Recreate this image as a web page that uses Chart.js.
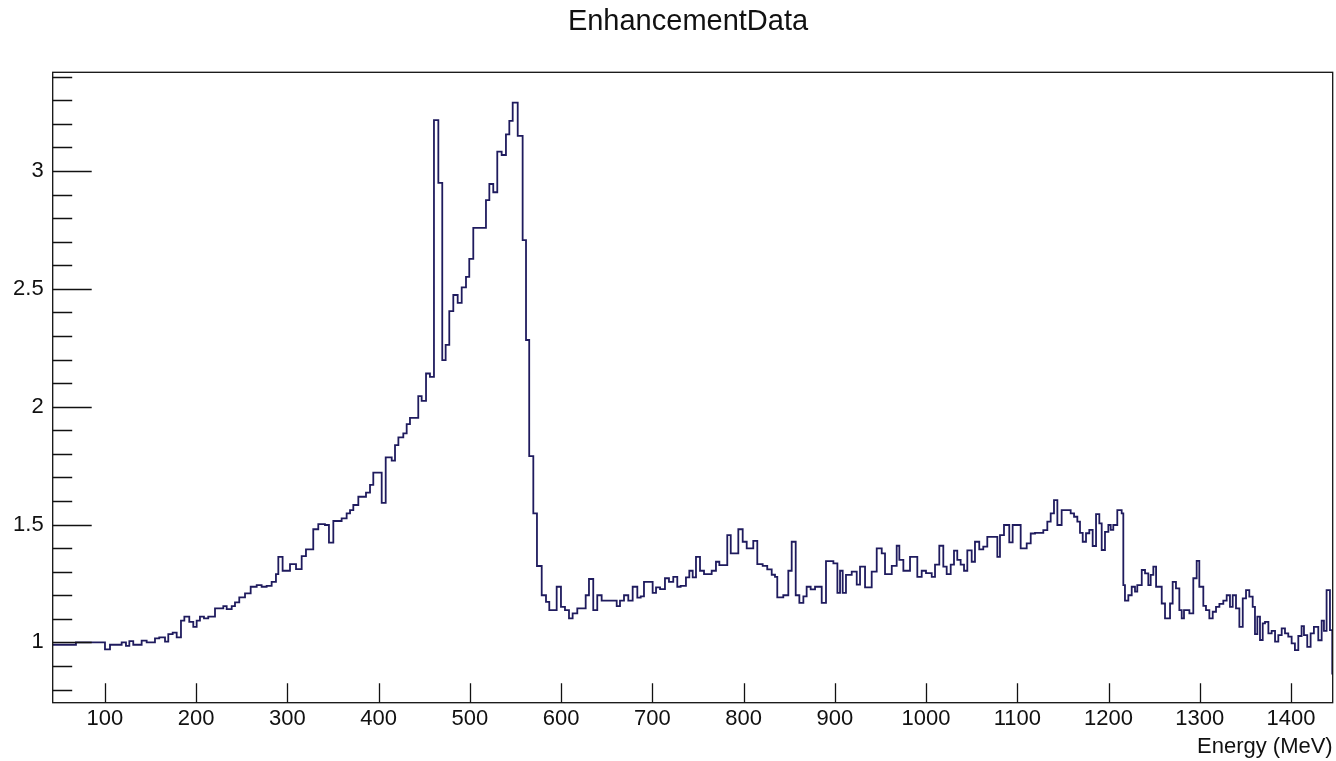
<!DOCTYPE html>
<html>
<head>
<meta charset="utf-8">
<title>EnhancementData</title>
<script src="https://cdn.jsdelivr.net/npm/chart.js@4.4.1/dist/chart.umd.min.js"></script>
<style>
  html, body { margin: 0; padding: 0; background: #fff; }
  canvas { display: block; }
</style>
</head>
<body>
<canvas id="graph" width="1336" height="761"></canvas>
<script>
// lower bin edges (MeV) and enhancement per bin; last edge closes the final bin
var binEdges = [
  42.7, 68.2, 100, 105.5, 118.3, 123, 126.7, 131, 140.2, 145.7,
  154.8, 159.5, 165.8, 169.4, 174.2, 178.6, 183.3, 187, 192.4, 196.8,
  200.5, 204.1, 208.5, 213.2, 220.6, 229.7, 233.4, 238.9, 242.5, 247.2,
  253.5, 259.7, 266.3, 271.7, 277.2, 282.7, 287.4, 290, 294.7, 302.8,
  309.4, 315.6, 320.3, 328.3, 333.8, 341.1, 345.5, 350.3, 359.4, 364.9,
  368.6, 372.2, 377.7, 386.1, 390.5, 394.1, 403.3, 407.7, 414.3, 417.9,
  421.6, 427, 430.7, 434.3, 443.4, 447.1, 451.9, 456.2, 460.6, 465.4,
  469.7, 473.4, 477.4, 481.8, 486.6, 491, 495.7, 499.3, 503.7, 517.6,
  521.3, 525.6, 530, 534.8, 539.5, 543.2, 546.9, 552.4, 557.8, 561.5,
  565, 569.5, 573.5, 578.7, 583.4, 587, 595.1, 599.8, 604.2, 608.6,
  612.6, 617.7, 626.9, 630.5, 635.2, 639.6, 644.4, 660.9, 664.5, 668.9,
  673.6, 678.4, 683.5, 687.2, 690.8, 700.3, 704, 708.4, 713.8, 718.2,
  722.9, 727.3, 731, 736.8, 740.5, 744.2, 747.8, 752.2, 756.6, 765,
  769.7, 773.4, 782.1, 785.9, 794.2, 799, 803.4, 810.6, 815, 820.9,
  825.9, 830.8, 834.4, 836.9, 843.5, 849, 852.7, 857.1, 861.1, 865.5,
  869.1, 873.5, 878.3, 885.6, 890.3, 898.4, 902.8, 905.7, 908.6, 912.2,
  918.5, 924, 927.6, 933.1, 940.4, 945.9, 951.4, 955, 962.4, 967.8,
  970.7, 975.1, 982.4, 990.4, 995.2, 999.9, 1006.2, 1009.8, 1014.5, 1018.9,
  1022.6, 1027, 1030.6, 1034.2, 1037.9, 1041.6, 1045.2, 1050, 1053.6, 1058.3,
  1062.7, 1067.1, 1078.1, 1081, 1085.4, 1091.2, 1094.9, 1103.7, 1110.3, 1114.7,
  1119.4, 1128.5, 1132.9, 1136.6, 1140.2, 1143.9, 1148.6, 1158.5, 1162.2, 1165.8,
  1168.7, 1171.7, 1175.3, 1178.9, 1182.6, 1186.3, 1189.9, 1192.5, 1196.1, 1199.8,
  1202.4, 1205.2, 1209.6, 1214.4, 1216.2, 1218, 1221.7, 1225.4, 1229, 1231.5,
  1236.4, 1240, 1243.6, 1246.2, 1249.1, 1252.1, 1258.3, 1261.9, 1267.4, 1270.3,
  1273.9, 1277.6, 1280.2, 1282.7, 1288.6, 1292.9, 1296.6, 1299.5, 1303.9, 1306.8,
  1310.5, 1314.2, 1317.8, 1321.5, 1325.8, 1329.5, 1333.1, 1336.1, 1339.7, 1343.4,
  1347.1, 1350.7, 1354.3, 1358, 1360.5, 1363.1, 1366, 1369, 1371.5, 1375.2,
  1378.8, 1382.5, 1386.1, 1389.8, 1393.4, 1397, 1400.7, 1404.3, 1408, 1411.6,
  1414.2, 1417.8, 1421.5, 1425.1, 1429.9, 1433.6, 1436.1, 1439, 1442.7, 1445.2,
  1446
];

var enhancement = [
  0.99, 1.0, 0.97, 0.99, 1.0, 0.985, 1.005, 0.99, 1.007, 1.0,
  1.017, 1.021, 1.003, 1.035, 1.041, 1.021, 1.092, 1.109, 1.087, 1.066,
  1.092, 1.109, 1.102, 1.109, 1.144, 1.154, 1.141, 1.154, 1.17, 1.191,
  1.208, 1.236, 1.243, 1.236, 1.24, 1.257, 1.29, 1.363, 1.304, 1.332,
  1.311, 1.366, 1.395, 1.48, 1.502, 1.498, 1.423, 1.515, 1.526, 1.547,
  1.561, 1.583, 1.618, 1.635, 1.668, 1.72, 1.592, 1.785, 1.771, 1.837,
  1.87, 1.887, 1.926, 1.953, 2.045, 2.025, 2.141, 2.127, 3.216, 2.95,
  2.198, 2.262, 2.406, 2.474, 2.441, 2.506, 2.551, 2.627, 2.759, 2.877,
  2.945, 2.91, 3.082, 3.068, 3.156, 3.213, 3.29, 3.149, 2.707, 2.283,
  1.79, 1.547, 1.324, 1.2, 1.172, 1.137, 1.236, 1.151, 1.137, 1.102,
  1.123, 1.144, 1.2, 1.269, 1.137, 1.2, 1.177, 1.154, 1.177, 1.2,
  1.177, 1.236, 1.19, 1.195, 1.257, 1.21, 1.233, 1.226, 1.272, 1.257,
  1.278, 1.236, 1.24, 1.276, 1.304, 1.276, 1.363, 1.304, 1.29, 1.304,
  1.342, 1.328, 1.455, 1.378, 1.48, 1.427, 1.399, 1.431, 1.332, 1.325,
  1.31, 1.287, 1.278, 1.191, 1.2, 1.304, 1.427, 1.2, 1.168, 1.195,
  1.236, 1.225, 1.236, 1.168, 1.345, 1.335, 1.21, 1.304, 1.21, 1.286,
  1.3, 1.245, 1.321, 1.233, 1.3, 1.399, 1.378, 1.29, 1.325, 1.41,
  1.35, 1.304, 1.363, 1.278, 1.304, 1.294, 1.278, 1.33, 1.41, 1.321,
  1.29, 1.33, 1.389, 1.35, 1.33, 1.304, 1.39, 1.342, 1.427, 1.395,
  1.406, 1.448, 1.363, 1.455, 1.498, 1.424, 1.498, 1.399, 1.42, 1.462,
  1.465, 1.476, 1.512, 1.547, 1.604, 1.498, 1.561, 1.547, 1.533, 1.512,
  1.465, 1.427, 1.463, 1.477, 1.409, 1.544, 1.505, 1.392, 1.469, 1.498,
  1.477, 1.498, 1.561, 1.547, 1.243, 1.177, 1.2, 1.236, 1.215, 1.243,
  1.307, 1.293, 1.243, 1.286, 1.321, 1.236, 1.165, 1.102, 1.165, 1.257,
  1.229, 1.137, 1.102, 1.137, 1.123, 1.272, 1.346, 1.236, 1.155, 1.137,
  1.102, 1.13, 1.151, 1.163, 1.177, 1.2, 1.151, 1.2, 1.144, 1.066,
  1.187, 1.222, 1.194, 1.151, 1.035, 1.109, 1.01, 1.081, 1.087, 1.038,
  1.049, 1.003, 1.031, 1.059, 1.038, 1.024, 0.996, 0.967, 1.027, 1.069,
  1.031, 0.981, 1.038, 1.066, 1.009, 1.092, 1.049, 1.222, 1.052, 0.868
];

var xTicks = [100, 200, 300, 400, 500, 600, 700, 800, 900, 1000, 1100, 1200, 1300, 1400];
var yMajorTicks = [1, 1.5, 2, 2.5, 3];
var yMinorTicks = [0.8, 0.9, 1.1, 1.2, 1.3, 1.4, 1.6, 1.7, 1.8, 1.9,
                   2.1, 2.2, 2.3, 2.4, 2.6, 2.7, 2.8, 2.9, 3.1, 3.2, 3.3, 3.4];

var FONT = '"Liberation Sans", Arial, Helvetica, sans-serif';
var INK = '#111';

function histPoints() {
  var pts = [];
  for (var i = 0; i < enhancement.length; i++) {
    pts.push({ x: binEdges[i], y: enhancement[i] });
  }
  pts.push({ x: binEdges[binEdges.length - 1], y: enhancement[enhancement.length - 1] });
  return pts;
}

function isMajor(v) {
  return yMajorTicks.indexOf(Math.round(v * 10) / 10) !== -1;
}

// ROOT style frame: box around the pad, ticks pointing inwards
var framePlugin = {
  id: 'frame',
  afterDraw: function(chart) {
    var ctx = chart.ctx;
    var area = chart.chartArea;
    var xs = chart.scales.x;
    var ys = chart.scales.y;
    ctx.save();
    ctx.strokeStyle = INK;
    ctx.lineWidth = 1.3;
    ctx.strokeRect(area.left, area.top, area.right - area.left, area.bottom - area.top);

    ctx.beginPath();
    xTicks.forEach(function(v) {
      var px = Math.round(xs.getPixelForValue(v)) + 0.5;
      ctx.moveTo(px, area.bottom);
      ctx.lineTo(px, area.bottom - 19.5);
    });
    yMajorTicks.concat(yMinorTicks).forEach(function(v) {
      var py = Math.round(ys.getPixelForValue(v)) + 0.5;
      ctx.moveTo(area.left, py);
      ctx.lineTo(area.left + (isMajor(v) ? 39 : 19.5), py);
    });
    ctx.stroke();

    // histogram title
    ctx.fillStyle = INK;
    ctx.font = '29px ' + FONT;
    ctx.textAlign = 'center';
    ctx.textBaseline = 'middle';
    ctx.fillText('EnhancementData', 688, 22);
    ctx.restore();
  }
};

function chartSetup() {
  var data = {
    type: 'line',
    data: {
      datasets: [{
        data: histPoints(),
        stepped: true,
        borderColor: '#1f1b5e',
        borderWidth: 1.8,
        pointRadius: 0,
        fill: false
      }]
    },
    options: {
      responsive: false,
      animation: false,
      layout: {
        padding: { top: 72.3, right: 3.3, left: 0, bottom: 0 }
      },
      plugins: {
        legend: { display: false },
        title: { display: false },
        tooltip: { enabled: false }
      },
      scales: {
        x: {
          type: 'linear',
          min: 42.7,
          max: 1445.7,
          afterBuildTicks: function(scale) {
            scale.ticks = xTicks.map(function(v) { return { value: v }; });
          },
          afterFit: function(scale) { scale.height = 58.3; },
          grid: { display: false, drawTicks: false },
          border: { display: false },
          ticks: {
            padding: 3,
            color: INK,
            maxRotation: 0,
            autoSkip: false,
            font: { family: FONT, size: 22 },
            callback: function(value) { return String(value); }
          },
          title: {
            display: true,
            text: 'Energy (MeV)',
            align: 'end',
            color: INK,
            padding: { top: 0, bottom: 1 },
            font: { family: FONT, size: 22 }
          }
        },
        y: {
          min: 0.744,
          max: 3.419,
          afterBuildTicks: function(scale) {
            scale.ticks = yMajorTicks.map(function(v) { return { value: v }; });
          },
          afterFit: function(scale) { scale.width = 52.7; },
          grid: { display: false, drawTicks: false },
          border: { display: false },
          ticks: {
            padding: 9,
            color: INK,
            autoSkip: false,
            font: { family: FONT, size: 22 },
            callback: function(value) { return String(value); }
          }
        }
      }
    },
    plugins: [framePlugin]
  };
  return data;
}

var context = document.querySelector('#graph').getContext('2d');
var chart = new Chart(context, chartSetup());
</script>
</body>
</html>
